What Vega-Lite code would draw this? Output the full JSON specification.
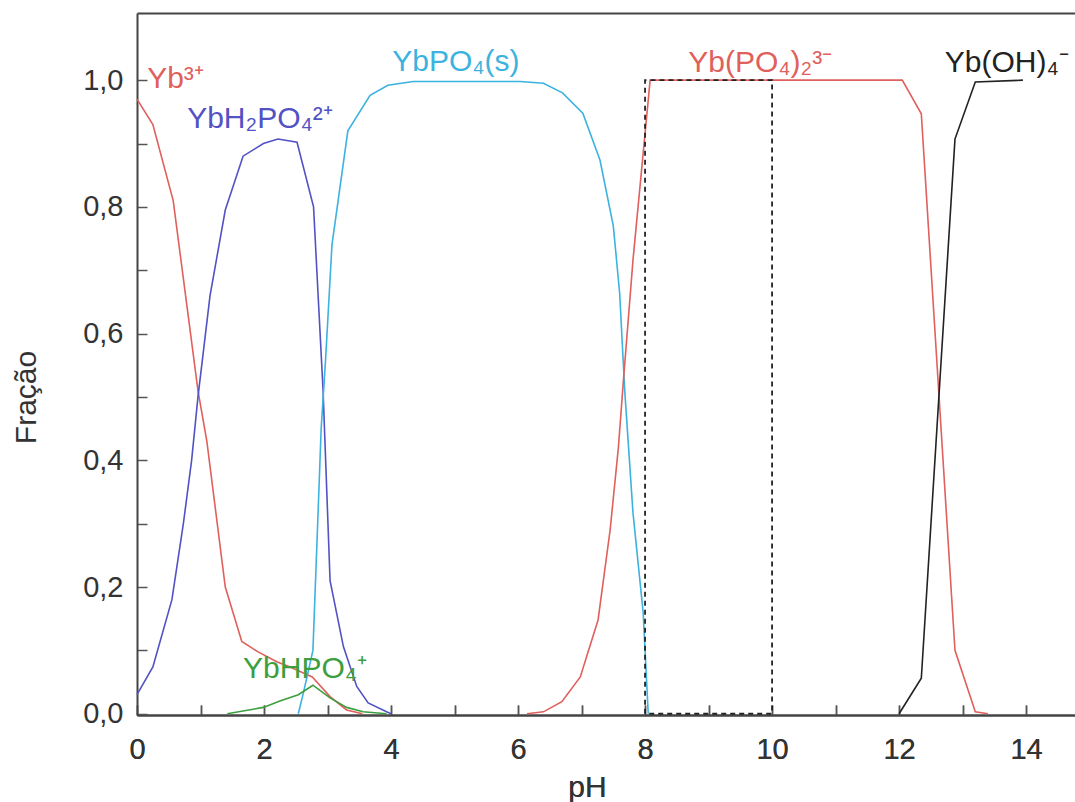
{
  "$schema": "https://vega.github.io/schema/vega-lite/v6.json",
  "autosize": {"type": "none"},
  "padding": {"left": 137, "top": 13, "right": 0, "bottom": 87},
  "width": 938,
  "height": 702,
  "background": "white",
  "config": {
    "view": {"stroke": null},
    "font": "Liberation Sans",
    "axis": {
      "grid": false,
      "domainColor": "#444444",
      "domainWidth": 2,
      "tickColor": "#555555",
      "tickWidth": 1.5,
      "labelColor": "#333333",
      "titleColor": "#333333",
      "labelFont": "Liberation Sans",
      "titleFont": "Liberation Sans",
      "titleFontWeight": "normal",
      "labelFlush": false,
      "labelOverlap": false
    }
  },
  "datasets": {
    "curves": [
      {"s": "Yb3+", "pH": 0, "f": 0.97},
      {"s": "Yb3+", "pH": 0.25, "f": 0.93},
      {"s": "Yb3+", "pH": 0.57, "f": 0.81},
      {"s": "Yb3+", "pH": 0.96, "f": 0.51},
      {"s": "Yb3+", "pH": 1.1, "f": 0.43},
      {"s": "Yb3+", "pH": 1.39, "f": 0.2},
      {"s": "Yb3+", "pH": 1.65, "f": 0.114},
      {"s": "Yb3+", "pH": 1.9, "f": 0.098},
      {"s": "Yb3+", "pH": 2.2, "f": 0.082},
      {"s": "Yb3+", "pH": 2.4, "f": 0.074},
      {"s": "Yb3+", "pH": 2.76, "f": 0.058},
      {"s": "Yb3+", "pH": 3.04, "f": 0.027},
      {"s": "Yb3+", "pH": 3.3, "f": 0.006},
      {"s": "Yb3+", "pH": 3.55, "f": 0.0},

      {"s": "YbH2PO4", "pH": 0, "f": 0.03},
      {"s": "YbH2PO4", "pH": 0.25, "f": 0.074},
      {"s": "YbH2PO4", "pH": 0.55, "f": 0.18},
      {"s": "YbH2PO4", "pH": 0.73, "f": 0.3},
      {"s": "YbH2PO4", "pH": 0.86, "f": 0.4},
      {"s": "YbH2PO4", "pH": 0.96, "f": 0.5},
      {"s": "YbH2PO4", "pH": 1.15, "f": 0.66},
      {"s": "YbH2PO4", "pH": 1.39, "f": 0.795},
      {"s": "YbH2PO4", "pH": 1.67, "f": 0.88},
      {"s": "YbH2PO4", "pH": 1.99, "f": 0.9},
      {"s": "YbH2PO4", "pH": 2.22, "f": 0.907},
      {"s": "YbH2PO4", "pH": 2.52, "f": 0.902},
      {"s": "YbH2PO4", "pH": 2.78, "f": 0.8},
      {"s": "YbH2PO4", "pH": 2.85, "f": 0.664},
      {"s": "YbH2PO4", "pH": 2.93, "f": 0.51},
      {"s": "YbH2PO4", "pH": 3.04, "f": 0.21},
      {"s": "YbH2PO4", "pH": 3.25, "f": 0.106},
      {"s": "YbH2PO4", "pH": 3.46, "f": 0.043},
      {"s": "YbH2PO4", "pH": 3.64, "f": 0.017},
      {"s": "YbH2PO4", "pH": 3.93, "f": 0.003},
      {"s": "YbH2PO4", "pH": 4.0, "f": 0.0},

      {"s": "YbPO4", "pH": 2.54, "f": 0.0},
      {"s": "YbPO4", "pH": 2.62, "f": 0.033},
      {"s": "YbPO4", "pH": 2.77, "f": 0.1},
      {"s": "YbPO4", "pH": 2.83, "f": 0.26},
      {"s": "YbPO4", "pH": 2.9, "f": 0.45},
      {"s": "YbPO4", "pH": 2.97, "f": 0.56},
      {"s": "YbPO4", "pH": 3.07, "f": 0.74},
      {"s": "YbPO4", "pH": 3.32, "f": 0.92},
      {"s": "YbPO4", "pH": 3.67, "f": 0.976},
      {"s": "YbPO4", "pH": 3.95, "f": 0.992},
      {"s": "YbPO4", "pH": 4.35, "f": 0.998},
      {"s": "YbPO4", "pH": 6.03, "f": 0.998},
      {"s": "YbPO4", "pH": 6.4, "f": 0.995},
      {"s": "YbPO4", "pH": 6.7, "f": 0.98},
      {"s": "YbPO4", "pH": 7.02, "f": 0.948},
      {"s": "YbPO4", "pH": 7.29, "f": 0.874},
      {"s": "YbPO4", "pH": 7.5, "f": 0.77},
      {"s": "YbPO4", "pH": 7.6, "f": 0.664},
      {"s": "YbPO4", "pH": 7.68, "f": 0.51},
      {"s": "YbPO4", "pH": 7.81, "f": 0.317},
      {"s": "YbPO4", "pH": 7.97, "f": 0.16},
      {"s": "YbPO4", "pH": 8.05, "f": 0.0},

      {"s": "Yb(PO4)2", "pH": 6.14, "f": 0.0},
      {"s": "Yb(PO4)2", "pH": 6.4, "f": 0.003},
      {"s": "Yb(PO4)2", "pH": 6.69, "f": 0.019},
      {"s": "Yb(PO4)2", "pH": 6.98, "f": 0.058},
      {"s": "Yb(PO4)2", "pH": 7.26, "f": 0.148},
      {"s": "Yb(PO4)2", "pH": 7.45, "f": 0.29},
      {"s": "Yb(PO4)2", "pH": 7.58, "f": 0.42},
      {"s": "Yb(PO4)2", "pH": 7.66, "f": 0.527},
      {"s": "Yb(PO4)2", "pH": 7.81, "f": 0.716},
      {"s": "Yb(PO4)2", "pH": 8.08, "f": 1.0},
      {"s": "Yb(PO4)2", "pH": 12.05, "f": 1.0},
      {"s": "Yb(PO4)2", "pH": 12.35, "f": 0.947},
      {"s": "Yb(PO4)2", "pH": 12.88, "f": 0.1},
      {"s": "Yb(PO4)2", "pH": 13.2, "f": 0.003},
      {"s": "Yb(PO4)2", "pH": 13.4, "f": 0.0},

      {"s": "Yb(OH)4", "pH": 12.0, "f": 0.0},
      {"s": "Yb(OH)4", "pH": 12.35, "f": 0.056},
      {"s": "Yb(OH)4", "pH": 12.88, "f": 0.907},
      {"s": "Yb(OH)4", "pH": 13.2, "f": 0.997},
      {"s": "Yb(OH)4", "pH": 13.95, "f": 1.0},

      {"s": "YbHPO4", "pH": 1.42, "f": 0.0},
      {"s": "YbHPO4", "pH": 1.99, "f": 0.01},
      {"s": "YbHPO4", "pH": 2.25, "f": 0.02},
      {"s": "YbHPO4", "pH": 2.54, "f": 0.03},
      {"s": "YbHPO4", "pH": 2.77, "f": 0.045},
      {"s": "YbHPO4", "pH": 3.04, "f": 0.025},
      {"s": "YbHPO4", "pH": 3.3, "f": 0.01},
      {"s": "YbHPO4", "pH": 3.56, "f": 0.003},
      {"s": "YbHPO4", "pH": 3.93, "f": 0.0}
    ],
    "box": [
      {"i": 0, "pH": 8, "f": 0},
      {"i": 1, "pH": 8, "f": 1},
      {"i": 2, "pH": 10, "f": 1},
      {"i": 3, "pH": 10, "f": 0},
      {"i": 4, "pH": 8, "f": 0}
    ],
    "labels": [
      {"s": "Yb3+", "t": "Yb³⁺", "pH": 0.16, "f": 0.987},
      {"s": "YbH2PO4", "t": "YbH₂PO₄²⁺", "pH": 0.79, "f": 0.924},
      {"s": "YbPO4", "t": "YbPO₄(s)", "pH": 4.02, "f": 1.014},
      {"s": "Yb(PO4)2", "t": "Yb(PO₄)₂³⁻", "pH": 8.68, "f": 1.013},
      {"s": "Yb(OH)4", "t": "Yb(OH)₄⁻", "pH": 12.72, "f": 1.013},
      {"s": "YbHPO4", "t": "YbHPO₄⁺", "pH": 1.67, "f": 0.057}
    ]
  },
  "encoding": {
    "x": {
      "field": "pH", "type": "quantitative",
      "scale": {"domain": [0, 14.77], "nice": false, "zero": false},
      "axis": {
        "orient": "bottom",
        "values": [0, 1, 2, 3, 4, 5, 6, 7, 8, 9, 10, 11, 12, 13, 14],
        "labelExpr": "datum.value % 2 === 0 ? datum.label : ''",
        "tickSize": -10,
        "labelPadding": 53,
        "labelBaseline": "alphabetic",
        "labelFontSize": 29,
        "title": "pH",
        "titleFontSize": 30,
        "titleX": 450,
        "titleY": 81,
        "titleAlign": "center",
        "titleBaseline": "alphabetic"
      }
    },
    "y": {
      "field": "f", "type": "quantitative",
      "scale": {"domain": [-0.002, 1.106], "nice": false, "zero": false},
      "axis": {
        "values": [0, 0.1, 0.2, 0.3, 0.4, 0.5, 0.6, 0.7, 0.8, 0.9, 1.0],
        "labelExpr": "round(datum.value * 10) % 2 === 0 ? replace(format(datum.value, '.1f'), '.', ',') : ''",
        "tickSize": -10,
        "labelPadding": 24,
        "labelBaseline": "middle",
        "labelFontSize": 29,
        "title": "Fração",
        "titleFontSize": 30,
        "titleAngle": -90,
        "titleX": -102,
        "titleY": 384,
        "titleAlign": "center",
        "titleBaseline": "alphabetic"
      }
    }
  },
  "layer": [
    {
      "data": {"name": "curves"},
      "mark": {"type": "line", "strokeWidth": 1.6},
      "encoding": {
        "detail": {"field": "s"},
        "color": {
          "field": "s", "type": "nominal", "legend": null,
          "scale": {
            "domain": ["Yb3+", "YbH2PO4", "YbPO4", "Yb(PO4)2", "Yb(OH)4", "YbHPO4"],
            "range": ["#e0605c", "#5252c4", "#3cb2e0", "#e0605c", "#222222", "#3c9e3c"]
          }
        }
      }
    },
    {
      "data": {"name": "box"},
      "mark": {"type": "line", "strokeDash": [5, 4], "strokeWidth": 1.8, "color": "#222222"},
      "encoding": {
        "x": {"field": "pH", "type": "quantitative", "axis": {"orient": "top", "labels": false, "ticks": false, "title": null, "domainWidth": 2}},
        "order": {"field": "i", "type": "quantitative"}
      }
    },
    {
      "data": {"name": "labels"},
      "mark": {"type": "text", "align": "left", "baseline": "alphabetic", "fontSize": 30, "font": "Liberation Sans"},
      "encoding": {
        "text": {"field": "t"},
        "color": {
          "field": "s", "type": "nominal", "legend": null,
          "scale": {
            "domain": ["Yb3+", "YbH2PO4", "YbPO4", "Yb(PO4)2", "Yb(OH)4", "YbHPO4"],
            "range": ["#e0605c", "#5252c4", "#3cb2e0", "#e0605c", "#222222", "#3c9e3c"]
          }
        }
      }
    }
  ]
}
